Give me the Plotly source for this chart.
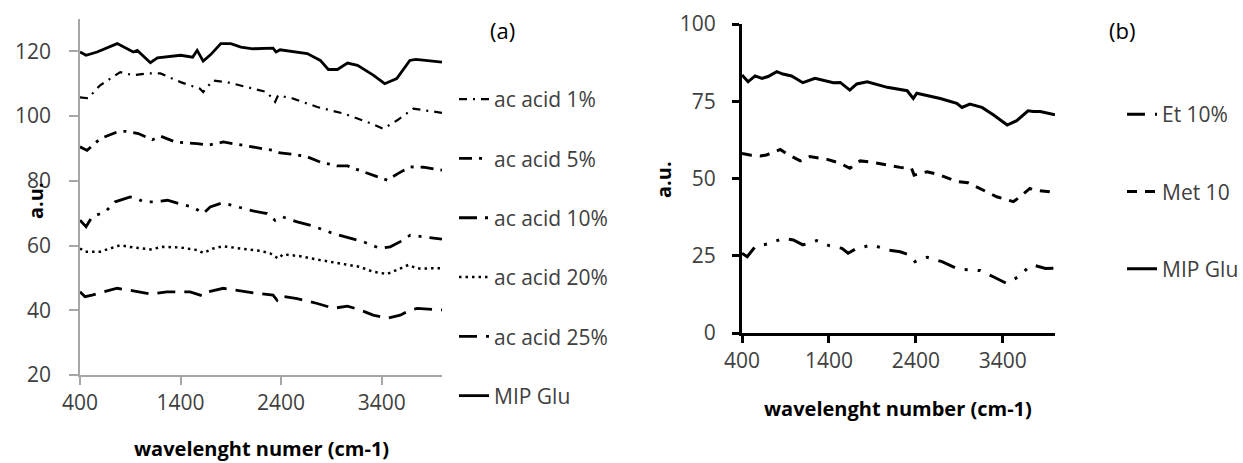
import plotly.graph_objects as go

# ---------------- Panel (a) data ----------------
a_mip_x = [400,460,570,770,930,970,1100,1170,1400,1520,1565,1625,1700,1800,1900,2000,2120,2320,2350,2390,2660,2790,2870,2960,3060,3160,3320,3430,3550,3680,3740,4000]
a_mip_y = [119.8,118.8,119.8,122.4,119.8,120.3,116.5,118,118.8,118.2,120.3,117,119,122.4,122.4,121.3,120.8,121,119.8,120.5,119.3,117.2,114.4,114.4,116.4,115.7,112.6,110,111.6,117.2,117.5,116.7]

a_1_x = [400,480,600,800,930,1070,1200,1400,1590,1625,1720,1860,2120,2260,2340,2370,2520,2760,3020,3255,3415,3555,3715,4000]
a_1_y = [105.8,105.5,109.5,113.6,112.6,113.2,113.2,110.5,108.5,107.4,111,110.5,108.5,107.4,104.4,106.4,105.4,102.8,100.8,98.2,96.1,98.7,102.3,101]

a_5_x = [400,470,600,770,850,980,1120,1200,1350,1565,1675,1825,1920,2190,2320,2390,2520,2660,2790,2960,3060,3190,3355,3455,3565,3685,3815,4000]
a_5_y = [90.5,89.4,93,95.1,95.3,94.6,92.7,93.8,92,91.5,91,92,91.5,90,89.4,88.6,88.2,87.4,85.8,84.6,84.6,83.1,81.2,80.2,82.3,84.3,84.2,83.3]

a_10_x = [400,460,520,650,750,900,970,1030,1130,1270,1400,1525,1625,1695,1815,1960,2120,2260,2340,2410,2560,2720,2920,3215,3385,3485,3585,3685,3805,4000]
a_10_y = [67.8,65.8,68.9,70.4,73.5,75,74.5,73.5,73.5,74,72.8,71.9,69.9,71.9,73.2,71.9,70.7,69.9,67.8,68.9,67.3,66,63.7,61.2,59.1,59.6,61.2,63.2,62.7,62]

a_20_x = [400,450,600,700,800,930,1100,1225,1400,1565,1625,1725,1825,1990,2190,2290,2370,2420,2590,2790,2985,3185,3315,3455,3585,3665,3755,4000]
a_20_y = [59.1,58.1,58.1,59.1,60.1,59.4,58.8,59.6,59.4,58.6,57.7,59.1,59.8,59.1,58.4,57.6,56,57.3,56.7,55.5,54.5,53.4,51.9,51.2,52.9,54,52.9,53]

a_25_x = [400,450,520,700,770,930,1100,1265,1495,1625,1675,1825,1990,2160,2320,2360,2390,2560,2760,2920,3060,3185,3315,3455,3585,3685,3755,4000]
a_25_y = [45.7,44.2,44.7,46.2,46.8,46,45,45.7,45.7,44.4,45.7,46.8,46,45.2,44.7,43.1,44.4,43.6,42.1,40.6,41.3,40.1,38.5,37.5,38.5,40.1,40.6,40.1]

# ---------------- Panel (b) data ----------------
b_mip_x = [400,470,550,630,700,800,870,970,1100,1240,1450,1530,1640,1720,1840,2070,2300,2370,2410,2680,2870,2930,3020,3160,3290,3450,3560,3690,3750,3830,4000]
b_mip_y = [83.5,81.3,83.2,82.4,83,84.6,83.8,83.2,81,82.4,81,81.1,78.6,80.6,81.3,79.5,78.4,75.9,77.6,75.9,74.3,73,74.1,73,70.6,67.3,68.7,71.9,71.7,71.7,70.6]

b_met_x = [400,490,610,680,840,920,1070,1180,1380,1530,1640,1760,1870,2070,2220,2350,2380,2530,2680,2870,3000,3250,3330,3520,3600,3710,3750,3910,4000]
b_met_y = [58.1,57.6,57.3,57.6,59.4,57.9,55.7,57.1,56.2,54.9,53.3,55.7,55.4,54.4,53.6,53.3,51.1,52.2,51.1,49,48.6,45.2,44.1,42.5,44.1,46.8,46.3,45.8,45.5]

b_et_x = [400,460,550,720,870,990,1100,1260,1410,1550,1620,1720,1900,2070,2220,2330,2390,2530,2700,2870,2940,3140,3290,3440,3580,3680,3750,3890,4000]
b_et_y = [25.8,24.7,27.9,29,30.6,30.1,28.5,29.9,28.2,27.4,25.8,27.4,28.5,26.9,26.3,25.2,23.1,24.5,23.1,20.9,20.6,20.2,18.2,16.1,18.2,20.9,22,20.9,21]

a_y_ticks = [20, 40, 60, 80, 100, 120]
b_y_ticks = [0, 25, 50, 75, 100]
x_ticks = [400, 1400, 2400, 3400]

W, H = 1243, 463
FONT = "Open Sans"
TXT = "#404040"

def px_x(p):
    return p / W

def px_y(p):
    return 1 - p / H

fig = go.Figure()

a_series = [
    ("ac acid 1%", a_1_x, a_1_y, "8px,6px,2px,6px", 2.2),
    ("ac acid 5%", a_5_x, a_5_y, "13px,7px,3px,7px", 2.8),
    ("ac acid 10%", a_10_x, a_10_y, "18px,8px,3px,8px,3px,8px", 2.8),
    ("ac acid 20%", a_20_x, a_20_y, "2.5px,4px", 2.5),
    ("ac acid 25%", a_25_x, a_25_y, "18px,9px", 2.8),
    ("MIP Glu", a_mip_x, a_mip_y, "solid", 2.8),
]
for i, (name, xs, ys, dash, w) in enumerate(a_series):
    fig.add_trace(go.Scatter(x=xs, y=ys, mode="lines", name=name,
                             line=dict(color="black", width=w, dash=dash),
                             xaxis="x", yaxis="y", legend="legend",
                             legendgroup="a%d" % i))

b_series = [
    ("Et 10%", b_et_x, b_et_y, "18px,10px,3px,10px,3px,10px"),
    ("Met 10", b_met_x, b_met_y, "10px,8px"),
    ("MIP Glu", b_mip_x, b_mip_y, "solid"),
]
for i, (name, xs, ys, dash) in enumerate(b_series):
    fig.add_trace(go.Scatter(x=xs, y=ys, mode="lines", name=name,
                             line=dict(color="black", width=3, dash=dash),
                             xaxis="x2", yaxis="y2", legend="legend2",
                             legendgroup="b%d" % i))

gray = "#a6a6a6"
tickfont = dict(family=FONT, size=21, color=TXT)

fig.update_layout(
    width=W, height=H,
    margin=dict(l=0, r=0, t=0, b=0, autoexpand=False),
    paper_bgcolor="white", plot_bgcolor="white",
    font=dict(family=FONT, color=TXT),
    xaxis=dict(domain=[px_x(80), px_x(442)], range=[400, 4000], tickvals=x_ticks,
               showgrid=False, zeroline=False, showline=True, linecolor=gray, linewidth=1.5,
               ticks="outside", ticklen=8, tickcolor=gray, tickwidth=1.5,
               tickfont=tickfont, anchor="y", automargin=False),
    yaxis=dict(domain=[px_y(375), px_y(19)], range=[20, 130], tickvals=a_y_ticks,
               showgrid=False, zeroline=False, showline=True, linecolor=gray, linewidth=1.5,
               ticks="outside", ticklen=9, tickcolor=gray, tickwidth=1.5,
               tickfont=tickfont, anchor="x", ticklabelstandoff=14, automargin=False),
    xaxis2=dict(domain=[px_x(742), px_x(1055)], range=[400, 4000], tickvals=x_ticks,
                showgrid=False, zeroline=False, showline=True, linecolor="black", linewidth=3,
                ticks="outside", ticklen=7, tickcolor="black", tickwidth=3,
                tickfont=tickfont, anchor="y2", automargin=False),
    yaxis2=dict(domain=[px_y(333), px_y(24)], range=[0, 100], tickvals=b_y_ticks,
                showgrid=False, zeroline=False, showline=True, linecolor="black", linewidth=3,
                ticks="outside", ticklen=7, tickcolor="black", tickwidth=3,
                tickfont=tickfont, anchor="x2", ticklabelstandoff=12, automargin=False),
    legend=dict(x=px_x(454), y=px_y(79), xanchor="left", yanchor="top",
                bgcolor="rgba(0,0,0,0)", font=dict(family=FONT, size=21, color=TXT),
                tracegroupgap=29, itemwidth=30),
    legend2=dict(x=px_x(1122), y=px_y(94), xanchor="left", yanchor="top",
                 bgcolor="rgba(0,0,0,0)", font=dict(family=FONT, size=21, color=TXT),
                 tracegroupgap=47, itemwidth=30),
    showlegend=True,
)

ann = [
    dict(text="<b>wavelenght numer (cm-1)</b>", x=px_x(261), y=px_y(448), size=20, angle=0),
    dict(text="<b>wavelenght number (cm-1)</b>", x=px_x(898), y=px_y(408), size=20, angle=0),
    dict(text="<b>a.u.</b>", x=px_x(35), y=px_y(201), size=20, angle=-90),
    dict(text="<b>a.u.</b>", x=px_x(663), y=px_y(180), size=20, angle=-90),
    dict(text="(a)", x=px_x(502), y=px_y(30), size=22, angle=0),
    dict(text="(b)", x=px_x(1122), y=px_y(30), size=22, angle=0),
]
for a in ann:
    fig.add_annotation(text=a["text"], x=a["x"], y=a["y"], xref="paper", yref="paper",
                       xanchor="center", yanchor="middle", showarrow=False, textangle=a["angle"],
                       font=dict(family=FONT, size=a["size"], color="black"))

fig.write_html("out.html", config={"displayModeBar": False},
               post_script="document.body.style.margin='0';document.body.style.overflow='hidden';")
